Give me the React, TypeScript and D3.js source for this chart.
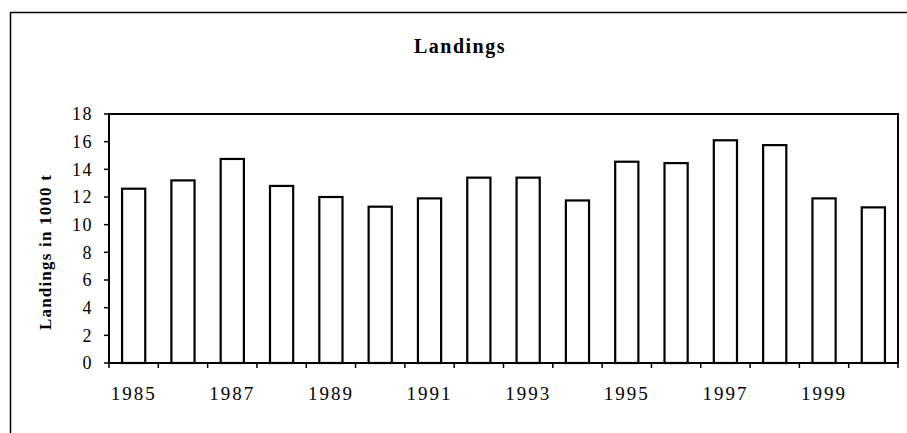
import React from 'react';
import * as d3 from 'd3';

const years = [1985, 1986, 1987, 1988, 1989, 1990, 1991, 1992, 1993, 1994, 1995, 1996, 1997, 1998, 1999, 2000];
const landings = [12.6, 13.2, 14.75, 12.8, 12.0, 11.3, 11.9, 13.4, 13.4, 11.75, 14.55, 14.45, 16.1, 15.75, 11.9, 11.25];
const yTicks = [0, 2, 4, 6, 8, 10, 12, 14, 16, 18];
const xLabelYears = [1985, 1987, 1989, 1991, 1993, 1995, 1997, 1999];

const W = 907;
const H = 433;
const margin = { top: 114, right: 9, bottom: 70, left: 109 };
const serif = '"Liberation Serif", "Times New Roman", serif';

const App: React.FC = () => {
  const innerW = W - margin.left - margin.right;
  const innerH = H - margin.top - margin.bottom;

  const x = d3
    .scaleBand<number>()
    .domain(years)
    .range([0, innerW])
    .paddingInner(0.53)
    .paddingOuter(0.265);

  const y = d3.scaleLinear().domain([0, 18]).range([innerH, 0]);

  // tick marks sit on the category boundaries
  const boundary = d3.scaleLinear().domain([0, years.length]).range([0, innerW]);

  return (
    <svg width={W} height={H} style={{ position: 'absolute', left: 0, top: 0, background: '#fff' }}>
      <rect x={10.5} y={12.5} width={W + 20} height={H + 20} fill="none" stroke="#000" strokeWidth={1.5} />
      <text
        x={460}
        y={53}
        textAnchor="middle"
        fontFamily={serif}
        fontWeight="bold"
        fontSize={20}
        letterSpacing={1.5}
      >
        Landings
      </text>
      <text
        transform={`translate(51,252) rotate(-90)`}
        textAnchor="middle"
        fontFamily={serif}
        fontWeight="bold"
        fontSize={17}
        letterSpacing={1.2}
      >
        Landings in 1000 t
      </text>
      <g transform={`translate(${margin.left},${margin.top})`}>
        <rect x={0} y={0} width={innerW} height={innerH} fill="none" stroke="#000" strokeWidth={2} />
        {years.map((yr, i) => (
          <rect
            key={yr}
            x={x(yr)}
            y={y(landings[i])}
            width={x.bandwidth()}
            height={innerH - y(landings[i])}
            fill="#fff"
            stroke="#000"
            strokeWidth={2.2}
          />
        ))}
        {yTicks.map(t => (
          <g key={t} transform={`translate(0,${y(t)})`}>
            <line x1={-5} x2={0} stroke="#000" strokeWidth={1.5} />
            <text
              x={-16}
              dy="0.35em"
              textAnchor="end"
              fontFamily={serif}
              fontSize={18}
              letterSpacing={1.5}
            >
              {t}
            </text>
          </g>
        ))}
        {d3.range(years.length + 1).map(i => (
          <line
            key={i}
            x1={boundary(i)}
            x2={boundary(i)}
            y1={innerH}
            y2={innerH + 5}
            stroke="#000"
            strokeWidth={1.5}
          />
        ))}
        {xLabelYears.map(yr => (
          <text
            key={yr}
            x={(x(yr) ?? 0) + x.bandwidth() / 2}
            y={innerH + 37}
            textAnchor="middle"
            fontFamily={serif}
            fontSize={19}
            letterSpacing={2}
          >
            {yr}
          </text>
        ))}
      </g>
    </svg>
  );
};

export default App;
